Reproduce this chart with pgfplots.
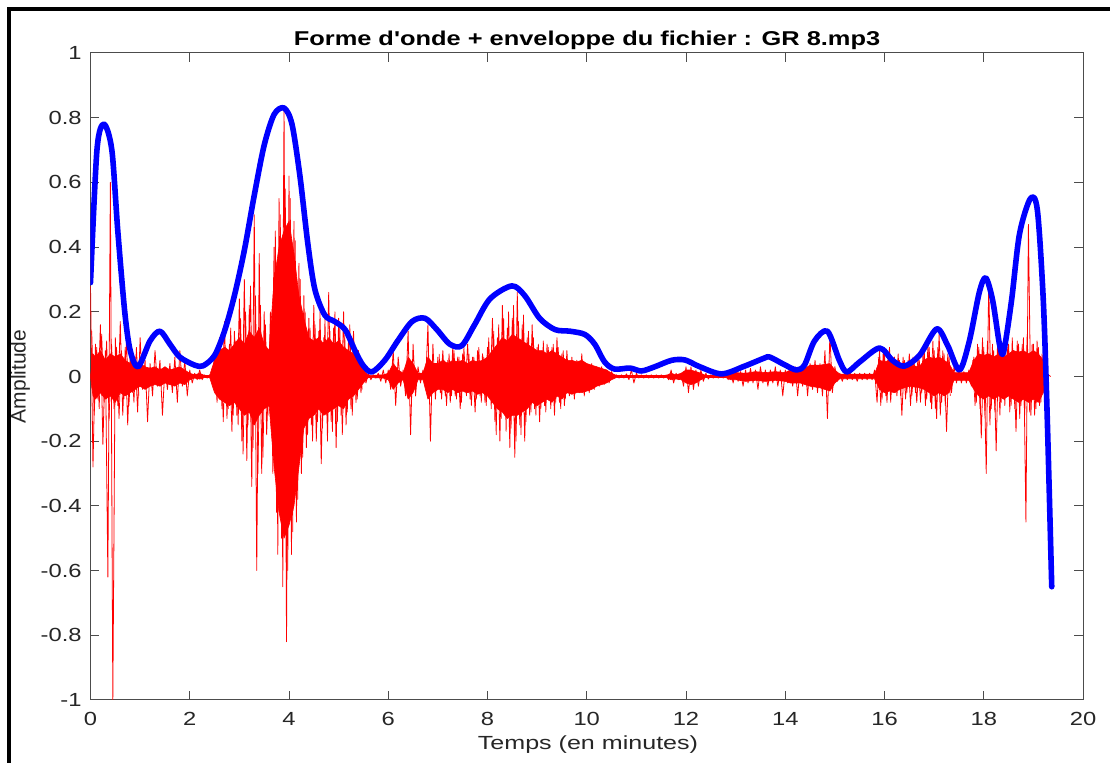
\documentclass[border=0pt]{standalone}
\usepackage{pgfplots}
\pgfplotsset{compat=1.18}
\usepackage{fontspec}
\setmainfont{Liberation Sans}
\newfontfamily\ticksf{Liberation Sans}[FakeStretch=1.25]
\newfontfamily\labsf{Liberation Sans}[FakeStretch=1.32]
\newfontfamily\titsf{Liberation Sans}[FakeStretch=1.27]

\begin{document}
\begin{tikzpicture}
\useasboundingbox (0,0) rectangle (555pt,381.5pt);
\begin{axis}[
  at={(45.25pt,31.5pt)}, anchor=south west,
  scale only axis, width=496.25pt, height=323.5pt,
  xmin=0, xmax=20, ymin=-1, ymax=1,
  xtick={0,2,4,6,8,10,12,14,16,18,20},
  ytick={-1,-0.8,-0.6,-0.4,-0.2,0,0.2,0.4,0.6,0.8,1},
  axis line style={black!70, line width=0.5pt},
  major tick style={black!70, line width=0.5pt},
  major tick length=4.3pt,
  tick align=inside,
  /pgf/number format/assume math mode=true,
  tick label style={font=\ticksf\fontsize{9.5}{11}\selectfont, text=black!85},
  yticklabel style={inner sep=0pt, anchor=east, xshift=-4.25pt},
  xticklabel style={inner sep=0pt, anchor=north, yshift=-6pt},
  spk/.style={red, line width=0.35pt, line join=round},
]
% dense body of the waveform: upper edge left to right, lower edge right to left
\addplot[fill=red, draw=red, line width=0.3pt, line join=round] coordinates {
(0.0,0.0)(0.05,0.07)(0.1,0.06)(0.2,0.08)(0.3,0.05)(0.4,0.07)(0.5,0.06)(0.6,0.07)(0.7,0.05)
(0.8,0.04)(0.9,0.03)(1.0,0.04)(1.1,0.03)(1.2,0.025)(1.3,0.03)(1.4,0.02)(1.5,0.03)(1.6,0.02)
(1.7,0.025)(1.8,0.03)(1.9,0.02)(2.0,0.01)(2.1,0.005)(2.2,0.01)(2.3,0.003)(2.4,0.003)(2.5,0.05)
(2.6,0.08)(2.7,0.09)(2.8,0.08)(2.9,0.10)(3.0,0.12)(3.1,0.10)(3.2,0.14)(3.3,0.12)(3.4,0.15)
(3.5,0.10)(3.6,0.08)(3.7,0.30)(3.8,0.40)(3.9,0.45)(4.0,0.48)(4.1,0.38)(4.2,0.25)(4.3,0.18)
(4.4,0.12)(4.5,0.11)(4.6,0.12)(4.7,0.10)(4.8,0.12)(4.9,0.10)(5.0,0.11)(5.1,0.09)(5.2,0.08)
(5.3,0.07)(5.4,0.05)(5.5,0.02)(5.6,0.003)(5.9,0.005)(6.0,0.01)(6.1,0.04)(6.2,0.02)(6.3,0.01)
(6.4,0.06)(6.5,0.04)(6.6,0.01)(6.7,0.01)(6.8,0.06)(6.9,0.04)(7.0,0.04)(7.1,0.05)(7.2,0.04)
(7.3,0.05)(7.4,0.045)(7.5,0.05)(7.6,0.04)(7.7,0.05)(7.8,0.045)(7.9,0.05)(8.0,0.06)(8.1,0.08)
(8.2,0.10)(8.3,0.12)(8.4,0.11)(8.5,0.13)(8.6,0.12)(8.7,0.11)(8.8,0.10)(8.9,0.09)(9.0,0.08)
(9.1,0.08)(9.2,0.07)(9.3,0.08)(9.4,0.07)(9.5,0.06)(9.6,0.05)(9.7,0.05)(9.8,0.045)(9.9,0.05)
(10.0,0.04)(10.1,0.035)(10.2,0.03)(10.3,0.025)(10.4,0.02)(10.5,0.01)(10.6,0.003)(11.6,0.003)
(11.7,0.01)(11.8,0.005)(11.9,0.01)(12.0,0.02)(12.1,0.02)(12.2,0.015)(12.3,0.01)(12.4,0.003)
(12.8,0.003)(12.9,0.01)(13.0,0.012)(13.2,0.01)(13.4,0.015)(13.6,0.012)(13.8,0.015)(14.0,0.012)
(14.1,0.02)(14.3,0.02)(14.4,0.025)(14.5,0.035)(14.7,0.035)(14.9,0.04)(15.0,0.02)(15.1,0.007)
(15.8,0.007)(15.9,0.05)(16.0,0.045)(16.1,0.05)(16.2,0.04)(16.3,0.035)(16.5,0.035)(16.7,0.03)
(16.8,0.05)(16.9,0.06)(17.0,0.055)(17.1,0.06)(17.2,0.05)(17.3,0.04)(17.4,0.012)(17.7,0.012)
(17.8,0.05)(17.9,0.07)(18.0,0.065)(18.1,0.07)(18.2,0.06)(18.3,0.07)(18.4,0.06)(18.5,0.07)
(18.6,0.08)(18.7,0.075)(18.8,0.08)(18.9,0.07)(19.0,0.08)(19.1,0.07)(19.2,0.05)(19.25,0.02)
(19.3,0.0)
(19.25,-0.02)(19.2,-0.05)(19.1,-0.08)(19.0,-0.07)(18.9,-0.08)(18.8,-0.07)(18.7,-0.08)(18.6,-0.07)
(18.5,-0.06)(18.4,-0.07)(18.3,-0.06)(18.2,-0.07)(18.1,-0.06)(18.0,-0.07)(17.9,-0.06)(17.8,-0.04)
(17.7,-0.012)(17.4,-0.012)(17.3,-0.05)(17.2,-0.06)(17.1,-0.05)(17.0,-0.06)(16.9,-0.05)(16.8,-0.04)
(16.7,-0.035)(16.5,-0.03)(16.3,-0.04)(16.2,-0.05)(16.1,-0.045)(16.0,-0.05)(15.9,-0.04)(15.8,-0.007)
(15.1,-0.007)(15.0,-0.02)(14.9,-0.045)(14.7,-0.035)(14.5,-0.03)(14.4,-0.025)(14.3,-0.02)(14.1,-0.02)
(14.0,-0.015)(13.8,-0.012)(13.6,-0.015)(13.4,-0.012)(13.2,-0.015)(13.0,-0.01)(12.9,-0.01)(12.8,-0.003)
(12.4,-0.003)(12.3,-0.01)(12.2,-0.02)(12.1,-0.025)(12.0,-0.02)(11.9,-0.01)(11.8,-0.008)(11.7,-0.01)
(11.6,-0.003)(10.6,-0.003)(10.5,-0.01)(10.4,-0.02)(10.3,-0.025)(10.2,-0.03)(10.1,-0.04)(10.0,-0.045)
(9.9,-0.05)(9.8,-0.05)(9.7,-0.055)(9.6,-0.05)(9.5,-0.07)(9.4,-0.06)(9.3,-0.08)(9.2,-0.07)
(9.1,-0.08)(9.0,-0.09)(8.9,-0.08)(8.8,-0.10)(8.7,-0.11)(8.6,-0.12)(8.5,-0.12)(8.4,-0.13)
(8.3,-0.11)(8.2,-0.10)(8.1,-0.08)(8.0,-0.06)(7.9,-0.05)(7.8,-0.055)(7.7,-0.045)(7.6,-0.05)
(7.5,-0.045)(7.4,-0.05)(7.3,-0.04)(7.2,-0.05)(7.1,-0.04)(7.0,-0.04)(6.9,-0.05)(6.8,-0.07)
(6.7,-0.01)(6.6,-0.01)(6.5,-0.05)(6.4,-0.07)(6.3,-0.01)(6.2,-0.02)(6.1,-0.04)(6.0,-0.01)
(5.9,-0.005)(5.6,-0.003)(5.5,-0.02)(5.4,-0.04)(5.3,-0.06)(5.2,-0.07)(5.1,-0.10)(5.0,-0.09)
(4.9,-0.10)(4.8,-0.11)(4.7,-0.12)(4.6,-0.10)(4.5,-0.12)(4.4,-0.13)(4.3,-0.16)(4.2,-0.28)
(4.1,-0.40)(4.0,-0.46)(3.9,-0.50)(3.8,-0.42)(3.7,-0.28)(3.6,-0.09)(3.5,-0.10)(3.4,-0.12)
(3.3,-0.15)(3.2,-0.11)(3.1,-0.12)(3.0,-0.10)(2.9,-0.08)(2.8,-0.09)(2.7,-0.08)(2.6,-0.07)
(2.5,-0.05)(2.4,-0.003)(2.3,-0.003)(2.2,-0.008)(2.1,-0.005)(2.0,-0.01)(1.9,-0.025)(1.8,-0.02)
(1.7,-0.03)(1.6,-0.025)(1.5,-0.02)(1.4,-0.03)(1.3,-0.025)(1.2,-0.03)(1.1,-0.04)(1.0,-0.03)
(0.9,-0.04)(0.8,-0.05)(0.7,-0.06)(0.6,-0.05)(0.5,-0.08)(0.4,-0.06)(0.3,-0.07)(0.2,-0.05)
(0.1,-0.07)(0.05,-0.06)(0.0,0.0)
};
% extra spikes in the louder passages
\addplot[spk] coordinates {
(0.025,0.14)(0.075,-0.12)(0.125,0.09)(0.175,-0.10)(0.225,0.13)(0.275,-0.08)(0.325,0.11)(0.375,-0.13)
(0.425,0.10)(0.475,-0.10)(0.525,0.09)(0.575,-0.13)(0.625,0.08)(0.675,-0.07)(0.725,0.11)(0.775,-0.09)
(0.825,0.06)(0.875,-0.08)(0.925,0.09)(0.975,-0.06)
};
\addplot[spk] coordinates {
(2.525,0.08)(2.575,-0.06)(2.625,0.10)(2.675,-0.14)(2.725,0.09)(2.775,-0.10)(2.825,0.15)(2.875,-0.12)
(2.925,0.11)(2.975,-0.15)(3.025,0.18)(3.075,-0.24)(3.125,0.20)(3.175,-0.15)(3.225,0.28)(3.275,-0.22)
(3.325,0.25)(3.375,-0.30)(3.425,0.22)(3.475,-0.25)(3.525,0.16)(3.575,-0.12)(3.625,0.20)(3.675,-0.30)
(3.725,0.45)(3.775,-0.55)(3.825,0.50)(3.875,-0.65)(3.925,0.58)(3.975,-0.60)(4.025,0.55)(4.075,-0.48)
(4.125,0.42)(4.175,-0.38)(4.225,0.30)(4.275,-0.25)(4.325,0.20)(4.375,-0.18)(4.425,0.15)(4.475,-0.20)
(4.525,0.16)(4.575,-0.14)(4.625,0.20)(4.675,-0.16)(4.725,0.18)(4.775,-0.20)(4.825,0.14)(4.875,-0.17)
(4.925,0.20)(4.975,-0.14)(5.025,0.15)(5.075,-0.18)(5.125,0.12)(5.175,-0.11)(5.225,0.16)(5.275,-0.12)
(5.325,0.10)(5.375,-0.07)(5.425,0.06)(5.475,-0.04)
};
\addplot[spk] coordinates {
(7.025,0.07)(7.075,-0.07)(7.125,0.05)(7.175,-0.09)(7.225,0.07)(7.275,-0.06)(7.325,0.08)(7.375,-0.07)
(7.425,0.06)(7.475,-0.08)(7.525,0.09)(7.575,-0.06)(7.625,0.07)(7.675,-0.09)(7.725,0.06)(7.775,-0.07)
(7.825,0.09)(7.875,-0.08)(7.925,0.06)(7.975,-0.09)
(8.025,0.12)(8.075,-0.10)(8.125,0.14)(8.175,-0.18)(8.225,0.16)(8.275,-0.13)(8.325,0.18)(8.375,-0.17)
(8.425,0.20)(8.475,-0.16)(8.525,0.22)(8.575,-0.20)(8.625,0.17)(8.675,-0.18)(8.725,0.19)(8.775,-0.14)
(8.825,0.14)(8.875,-0.11)(8.925,0.12)(8.975,-0.12)(9.025,0.10)(9.075,-0.10)(9.125,0.11)(9.175,-0.11)
(9.225,0.09)(9.275,-0.10)(9.325,0.10)(9.375,-0.08)(9.425,0.09)(9.475,-0.10)(9.525,0.08)(9.575,-0.07)
};
\addplot[spk] coordinates {
(15.875,0.06)(15.925,-0.09)(15.975,0.08)(16.025,-0.06)(16.075,0.07)(16.125,-0.08)(16.175,0.05)(16.225,-0.05)
(16.275,0.07)(16.325,-0.06)(16.375,0.06)(16.425,-0.07)(16.475,0.05)(16.525,-0.09)(16.575,0.06)(16.625,-0.05)
(16.675,0.06)(16.725,-0.08)(16.775,0.07)(16.825,-0.09)(16.875,0.10)(16.925,-0.08)(16.975,0.11)(17.025,-0.10)
(17.075,0.09)(17.125,-0.12)(17.175,0.08)(17.225,-0.09)(17.275,0.07)(17.325,-0.06)
};
\addplot[spk] coordinates {
(17.775,0.05)(17.825,-0.09)(17.875,0.10)(17.925,-0.10)(17.975,0.12)(18.025,-0.12)(18.075,0.11)(18.125,-0.15)
(18.175,0.10)(18.225,-0.11)(18.275,0.09)(18.325,-0.12)(18.375,0.08)(18.425,-0.09)(18.475,0.09)(18.525,-0.11)
(18.575,0.12)(18.625,-0.10)(18.675,0.11)(18.725,-0.13)(18.775,0.10)(18.825,-0.12)(18.875,0.13)(18.925,-0.11)
(18.975,0.10)(19.025,-0.12)(19.075,0.11)(19.125,-0.09)(19.175,0.07)(19.225,-0.05)
};
% main spikes of the waveform
\addplot[red, line width=0.4pt, line join=round] coordinates {
(0.00,0.28)(0.05,-0.28)(0.10,0.10)(0.15,-0.07)(0.20,0.16)(0.25,-0.21)(0.30,0.08)(0.35,-0.62)
(0.40,0.60)(0.45,-1.00)(0.50,0.12)(0.55,-0.09)(0.60,0.17)(0.65,-0.12)(0.70,0.09)(0.75,-0.15)
(0.80,0.07)(0.85,-0.05)(0.90,0.06)(0.95,-0.11)(1.00,0.12)(1.05,-0.04)(1.10,0.05)(1.15,-0.14)
(1.20,0.04)(1.25,-0.06)(1.30,0.08)(1.35,-0.03)(1.40,0.05)(1.45,-0.12)(1.50,0.03)(1.55,-0.04)
(1.60,0.04)(1.65,-0.05)(1.70,0.06)(1.75,-0.08)(1.80,0.08)(1.85,-0.03)(1.90,0.05)(1.95,-0.06)
(2.00,0.02)(2.05,-0.02)(2.10,0.01)(2.15,-0.01)(2.20,0.02)(2.25,-0.01)(2.30,0.005)(2.35,-0.005)
(2.40,0.005)(2.45,-0.005)(2.50,0.06)(2.55,-0.08)(2.60,0.12)(2.65,-0.10)(2.70,0.17)(2.75,-0.13)
(2.80,0.10)(2.85,-0.17)(2.90,0.14)(2.95,-0.12)(3.00,0.24)(3.05,-0.20)(3.10,0.30)(3.15,-0.26)
(3.20,0.22)(3.25,-0.34)(3.30,0.50)(3.35,-0.60)(3.40,0.38)(3.45,-0.30)(3.50,0.20)(3.55,-0.18)
(3.60,0.06)(3.65,-0.10)(3.70,0.40)(3.75,-0.42)(3.80,0.55)(3.85,-0.50)(3.90,0.83)(3.95,-0.82)
(4.00,0.62)(4.05,-0.55)(4.10,0.48)(4.15,-0.45)(4.20,0.35)(4.25,-0.30)(4.30,0.25)(4.35,-0.22)
(4.40,0.18)(4.45,-0.15)(4.50,0.22)(4.55,-0.20)(4.60,0.14)(4.65,-0.27)(4.70,0.12)(4.75,-0.12)
(4.80,0.26)(4.85,-0.14)(4.90,0.15)(4.95,-0.22)(5.00,0.18)(5.05,-0.12)(5.10,0.20)(5.15,-0.15)
(5.20,0.12)(5.25,-0.10)(5.30,0.14)(5.35,-0.08)(5.40,0.08)(5.45,-0.05)(5.50,0.04)(5.55,-0.02)
(5.60,0.01)(5.65,-0.01)(5.70,0.005)(5.75,-0.005)(5.80,0.01)(5.85,-0.015)(5.90,0.02)(5.95,-0.02)
(6.00,0.02)(6.05,-0.04)(6.10,0.08)(6.15,-0.09)(6.20,0.06)(6.25,-0.03)(6.30,0.02)(6.35,-0.06)
(6.40,0.14)(6.45,-0.18)(6.50,0.10)(6.55,-0.06)(6.60,0.03)(6.65,-0.02)(6.70,0.02)(6.75,-0.03)
(6.80,0.16)(6.85,-0.20)(6.90,0.10)(6.95,-0.07)(7.00,0.06)(7.05,-0.05)(7.10,0.08)(7.15,-0.06)
(7.20,0.05)(7.25,-0.08)(7.30,0.09)(7.35,-0.06)(7.40,0.06)(7.45,-0.10)(7.50,0.07)(7.55,-0.05)
(7.60,0.10)(7.65,-0.07)(7.70,0.06)(7.75,-0.11)(7.80,0.08)(7.85,-0.06)(7.90,0.07)(7.95,-0.08)
(8.00,0.09)(8.05,-0.07)(8.10,0.18)(8.15,-0.14)(8.20,0.12)(8.25,-0.20)(8.30,0.22)(8.35,-0.12)
(8.40,0.15)(8.45,-0.22)(8.50,0.18)(8.55,-0.25)(8.60,0.26)(8.65,-0.15)(8.70,0.16)(8.75,-0.20)
(8.80,0.12)(8.85,-0.12)(8.90,0.16)(8.95,-0.10)(9.00,0.09)(9.05,-0.14)(9.10,0.08)(9.15,-0.09)
(9.20,0.10)(9.25,-0.07)(9.30,0.09)(9.35,-0.12)(9.40,0.12)(9.45,-0.08)(9.50,0.07)(9.55,-0.09)
(9.60,0.08)(9.65,-0.06)(9.70,0.06)(9.75,-0.07)(9.80,0.05)(9.85,-0.05)(9.90,0.07)(9.95,-0.06)
(10.00,0.04)(10.05,-0.05)(10.10,0.04)(10.15,-0.04)(10.20,0.03)(10.25,-0.03)(10.30,0.03)(10.35,-0.025)
(10.40,0.02)(10.45,-0.02)(10.50,0.015)(10.55,-0.005)(10.60,0.005)(10.65,-0.005)(10.70,0.005)(10.75,-0.005)
(10.80,0.008)(10.85,-0.01)(10.90,0.02)(10.95,-0.02)(11.00,0.01)(11.05,-0.005)(11.10,0.005)(11.15,-0.005)
(11.20,0.005)(11.25,-0.005)(11.30,0.005)(11.35,-0.005)(11.40,0.005)(11.45,-0.005)(11.50,0.005)(11.55,-0.005)
(11.60,0.005)(11.65,-0.01)(11.70,0.02)(11.75,-0.02)(11.80,0.01)(11.85,-0.01)(11.90,0.01)(11.95,-0.03)
(12.00,0.03)(12.05,-0.05)(12.10,0.03)(12.15,-0.04)(12.20,0.02)(12.25,-0.03)(12.30,0.02)(12.35,-0.015)
(12.40,0.01)(12.45,-0.008)(12.50,0.005)(12.55,-0.005)(12.60,0.005)(12.65,-0.005)(12.70,0.005)(12.75,-0.005)
(12.80,0.008)(12.85,-0.01)(12.90,0.015)(12.95,-0.02)(13.00,0.02)(13.05,-0.015)(13.10,0.015)(13.15,-0.03)
(13.20,0.02)(13.25,-0.02)(13.30,0.025)(13.35,-0.02)(13.40,0.02)(13.45,-0.04)(13.50,0.03)(13.55,-0.02)
(13.60,0.02)(13.65,-0.03)(13.70,0.02)(13.75,-0.02)(13.80,0.03)(13.85,-0.03)(13.90,0.02)(13.95,-0.06)
(14.00,0.02)(14.05,-0.02)(14.10,0.02)(14.15,-0.03)(14.20,0.03)(14.25,-0.06)(14.30,0.03)(14.35,-0.03)
(14.40,0.04)(14.45,-0.06)(14.50,0.04)(14.55,-0.04)(14.60,0.05)(14.65,-0.05)(14.70,0.04)(14.75,-0.06)
(14.80,0.08)(14.85,-0.13)(14.90,0.13)(14.95,-0.05)(15.00,0.03)(15.05,-0.015)(15.10,0.01)(15.15,-0.015)
(15.20,0.01)(15.25,-0.01)(15.30,0.015)(15.35,-0.01)(15.40,0.01)(15.45,-0.015)(15.50,0.01)(15.55,-0.01)
(15.60,0.01)(15.65,-0.01)(15.70,0.01)(15.75,-0.01)(15.80,0.02)(15.85,-0.08)(15.90,0.08)(15.95,-0.07)
(16.00,0.07)(16.05,-0.08)(16.10,0.09)(16.15,-0.05)(16.20,0.06)(16.25,-0.06)(16.30,0.05)(16.35,-0.12)
(16.40,0.05)(16.45,-0.05)(16.50,0.07)(16.55,-0.06)(16.60,0.04)(16.65,-0.08)(16.70,0.05)(16.75,-0.05)
(16.80,0.08)(16.85,-0.07)(16.90,0.09)(16.95,-0.10)(17.00,0.08)(17.05,-0.13)(17.10,0.13)(17.15,-0.08)
(17.20,0.07)(17.25,-0.17)(17.30,0.06)(17.35,-0.05)(17.40,0.03)(17.45,-0.02)(17.50,0.02)(17.55,-0.02)
(17.60,0.015)(17.65,-0.02)(17.70,0.02)(17.75,-0.03)(17.80,0.06)(17.85,-0.08)(17.90,0.09)(17.95,-0.19)
(18.00,0.09)(18.05,-0.30)(18.10,0.29)(18.15,-0.10)(18.20,0.08)(18.25,-0.23)(18.30,0.09)(18.35,-0.08)
(18.40,0.07)(18.45,-0.06)(18.50,0.10)(18.55,-0.09)(18.60,0.08)(18.65,-0.17)(18.70,0.10)(18.75,-0.09)
(18.80,0.12)(18.85,-0.45)(18.90,0.47)(18.95,-0.12)(19.00,0.10)(19.05,-0.10)(19.10,0.09)(19.15,-0.08)
(19.20,0.06)(19.25,-0.02)(19.30,0.005)(19.35,0.0)
};
% envelope
\addplot[blue, line width=2.8pt, smooth, tension=0.5, line cap=round, line join=round] coordinates {
(0.00,0.29)(0.13,0.70)(0.27,0.78)(0.43,0.70)(0.55,0.45)(0.69,0.20)(0.80,0.08)(0.96,0.03)
(1.20,0.11)(1.40,0.14)(1.60,0.10)(1.80,0.06)(2.10,0.035)(2.27,0.033)(2.50,0.065)(2.70,0.14)
(2.90,0.25)(3.10,0.39)(3.30,0.56)(3.50,0.715)(3.70,0.81)(3.90,0.83)(4.06,0.78)(4.22,0.62)
(4.38,0.41)(4.52,0.27)(4.72,0.19)(4.92,0.17)(5.13,0.145)(5.33,0.08)(5.49,0.035)(5.67,0.014)
(5.93,0.05)(6.19,0.11)(6.48,0.17)(6.74,0.18)(6.98,0.145)(7.24,0.10)(7.48,0.095)(7.74,0.16)
(8.05,0.24)(8.49,0.28)(8.75,0.25)(9.05,0.18)(9.36,0.145)(9.66,0.14)(9.96,0.13)(10.16,0.10)
(10.36,0.045)(10.56,0.023)(10.87,0.026)(11.10,0.017)(11.37,0.03)(11.71,0.05)(11.98,0.051)(12.28,0.03)
(12.72,0.008)(13.18,0.032)(13.58,0.057)(13.69,0.06)(13.99,0.036)(14.23,0.02)(14.39,0.036)(14.59,0.11)
(14.85,0.14)(15.09,0.05)(15.24,0.014)(15.50,0.045)(15.90,0.088)(16.16,0.05)(16.40,0.032)(16.71,0.066)
(17.05,0.147)(17.27,0.097)(17.51,0.02)(17.71,0.11)(17.91,0.26)(18.04,0.305)(18.18,0.235)(18.32,0.097)
(18.40,0.076)(18.56,0.235)(18.72,0.44)(18.94,0.55)(19.08,0.515)(19.20,0.235)(19.28,-0.13)(19.37,-0.65)
};
\end{axis}
% title and labels
\node[anchor=base, inner sep=0pt] at (293.5pt,358.5pt)
  {\titsf\bfseries\fontsize{10}{12}\selectfont Forme d'onde + enveloppe du fichier : GR 8.mp3};
\node[anchor=base, inner sep=0pt, text=black!85] at (294pt,6.5pt)
  {\labsf\fontsize{9.5}{11}\selectfont Temps (en minutes)};
\node[anchor=base, inner sep=0pt, rotate=90, text=black!85] at (12.8pt,193.25pt)
  {\fontsize{10.5}{12}\selectfont Amplitude};
% frame
\draw[line width=2pt] (4.65pt,-2pt) -- (4.65pt,377.2pt) -- (560pt,377.2pt);
\end{tikzpicture}
\end{document}
